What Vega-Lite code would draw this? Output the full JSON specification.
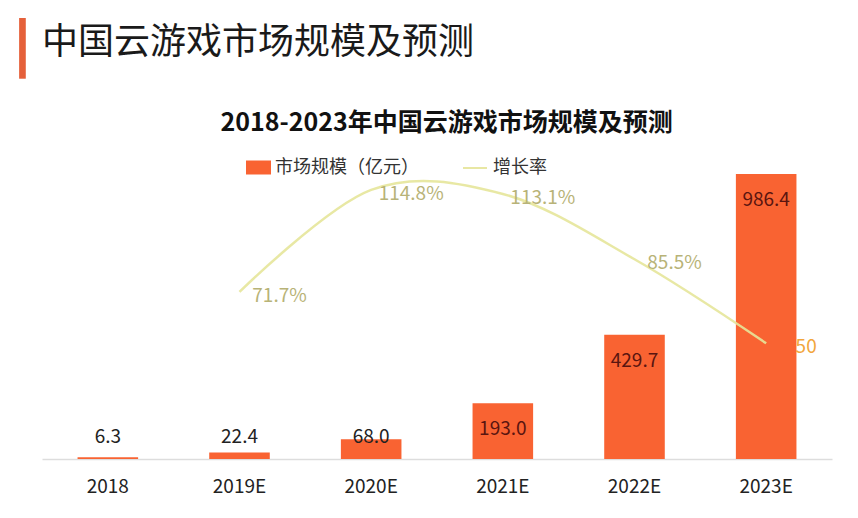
{
  "$schema": "https://vega.github.io/schema/vega-lite/v6.json",
  "autosize": "none",
  "width": 790,
  "height": 319,
  "padding": {"left": 42, "top": 140, "right": 26, "bottom": 59},
  "background": "#ffffff",
  "config": {
    "view": {"stroke": null},
    "font": "Noto Sans CJK SC"
  },
  "title": {
    "text": "中国云游戏市场规模及预测",
    "anchor": "start",
    "frame": "group",
    "font": "Noto Sans CJK SC",
    "fontSize": 36,
    "fontWeight": "normal",
    "color": "#1a1a1a",
    "offset": 0,
    "dy": 47
  },
  "data": {
    "values": [
      {"year": "2018", "size": 6.3, "rate": null, "rateLabel": null},
      {"year": "2019E", "size": 22.4, "rate": 71.7, "rateLabel": "71.7%"},
      {"year": "2020E", "size": 68.0, "rate": 114.8, "rateLabel": "114.8%"},
      {"year": "2021E", "size": 193.0, "rate": 113.1, "rateLabel": "113.1%"},
      {"year": "2022E", "size": 429.7, "rate": 85.5, "rateLabel": "85.5%"},
      {"year": "2023E", "size": 986.4, "rate": 50, "rateLabel": "50"}
    ]
  },
  "resolve": {
    "scale": {"y": "independent"},
    "axis": {"x": "independent", "y": "independent"}
  },
  "layer": [
    {
      "mark": {"type": "bar"},
      "encoding": {
        "x": {
          "field": "year", "type": "nominal", "sort": null,
          "scale": {"paddingInner": 0.54, "paddingOuter": 0.27},
          "axis": {
            "orient": "bottom", "title": null, "labelAngle": 0,
            "labelFont": "Noto Sans CJK SC", "labelFontSize": 19, "labelColor": "#222222",
            "ticks": false, "domainColor": "#dddddd", "domainWidth": 1.5, "labelPadding": 18
          }
        },
        "y": {
          "field": "size", "type": "quantitative",
          "scale": {"domain": [0, 1104], "nice": false, "zero": true},
          "axis": {
            "labels": false, "ticks": false, "domain": false, "grid": false,
            "title": "|", "titleAngle": 0, "titleX": -31, "titleY": -77,
            "titleFont": "DejaVu Sans", "titleFontSize": 60, "titleFontWeight": "bold",
            "titleColor": "#e5603a", "titleAlign": "left", "titleBaseline": "alphabetic"
          }
        },
        "fill": {
          "datum": "市场规模（亿元）",
          "scale": {"range": ["#f96332"]},
          "legend": {
            "orient": "none", "legendX": 204, "legendY": 15, "padding": 0, "title": null,
            "symbolType": "M-1,-0.56H1V0.56H-1Z", "symbolSize": 625, "symbolStrokeWidth": 0,
            "labelFont": "Noto Sans CJK SC", "labelFontSize": 18, "labelColor": "#333333", "labelOffset": 4
          }
        }
      }
    },
    {
      "transform": [{"filter": "datum.size < 100"}],
      "mark": {"type": "text", "dy": -22, "fontSize": 19, "color": "#222222", "font": "Noto Sans CJK SC", "baseline": "middle"},
      "encoding": {
        "x": {"field": "year", "type": "nominal", "sort": null, "scale": {"paddingInner": 0.54, "paddingOuter": 0.27}, "axis": null},
        "y": {"datum": 0, "type": "quantitative", "scale": {"domain": [0, 1104], "nice": false}, "axis": null},
        "text": {"field": "size", "type": "quantitative", "format": ".1f"}
      }
    },
    {
      "transform": [{"filter": "datum.size >= 100"}],
      "mark": {"type": "text", "dy": 26, "fontSize": 19, "color": "#5a1510", "font": "Noto Sans CJK SC", "baseline": "middle"},
      "encoding": {
        "x": {"field": "year", "type": "nominal", "sort": null, "scale": {"paddingInner": 0.54, "paddingOuter": 0.27}, "axis": null},
        "y": {"field": "size", "type": "quantitative", "scale": {"domain": [0, 1104], "nice": false}, "axis": null},
        "text": {"field": "size", "type": "quantitative", "format": ".1f"}
      }
    },
    {
      "mark": {"type": "line", "interpolate": "cardinal", "strokeWidth": 2.5, "opacity": 0.9},
      "encoding": {
        "x": {
          "field": "year", "type": "nominal", "sort": null,
          "scale": {"paddingInner": 0.54, "paddingOuter": 0.27},
          "axis": {
            "orient": "top", "labels": false, "ticks": false, "domain": false,
            "title": "2018-2023年中国云游戏市场规模及预测",
            "titleFont": "Noto Sans CJK SC", "titleFontSize": 25, "titleFontWeight": "bold",
            "titleColor": "#111111", "titleX": 404, "titleY": -18,
            "titleAlign": "center", "titleBaseline": "middle"
          }
        },
        "y": {"field": "rate", "type": "quantitative", "scale": {"domain": [1.1, 135.9], "nice": false, "zero": false}, "axis": null},
        "stroke": {
          "datum": "增长率",
          "scale": {"range": ["#e6e59a"]},
          "legend": {
            "orient": "none", "legendX": 420, "legendY": 15, "padding": 0, "title": null,
            "symbolType": "stroke", "symbolSize": 576, "symbolStrokeWidth": 2,
            "labelFont": "Noto Sans CJK SC", "labelFontSize": 18, "labelColor": "#333333", "labelOffset": 5
          }
        }
      }
    },
    {
      "mark": {"type": "text", "dx": 40, "dy": 4, "fontSize": 19, "font": "Noto Sans CJK SC", "baseline": "middle"},
      "encoding": {
        "x": {"field": "year", "type": "nominal", "sort": null, "scale": {"paddingInner": 0.54, "paddingOuter": 0.27}, "axis": null},
        "y": {"field": "rate", "type": "quantitative", "scale": {"domain": [1.1, 135.9], "nice": false, "zero": false}, "axis": null},
        "text": {"field": "rateLabel"},
        "color": {
          "condition": {"test": "datum.rate < 60", "value": "#f2a63c"},
          "value": "#b8b377"
        }
      }
    }
  ]
}
